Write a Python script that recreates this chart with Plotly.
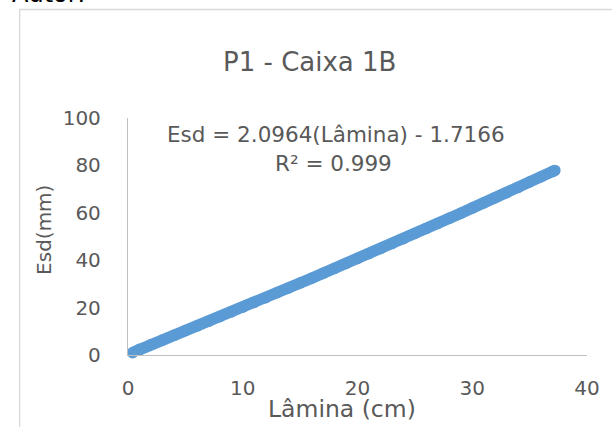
import plotly.graph_objects as go

# Measured depth of infiltrated water (Esd) versus applied water depth (Lâmina)
lamina_cm = [0.4, 1, 2, 3, 4, 5, 6, 7, 8, 9, 10, 11, 12, 13, 14, 15, 16, 17, 18,
             19, 20, 21, 22, 23, 24, 25, 26, 27, 28, 29, 30, 31, 32, 33, 34, 35,
             36, 37, 37.2]
esd_mm = [1.0, 2.4, 4.4, 6.3, 8.3, 10.3, 12.2, 14.2, 16.2, 18.2, 20.2, 22.2,
          24.2, 26.3, 28.3, 30.4, 32.4, 34.5, 36.5, 38.6, 40.7, 42.8, 44.9,
          47.0, 49.1, 51.3, 53.4, 55.5, 57.7, 59.8, 62.0, 64.2, 66.4, 68.5,
          70.7, 73.0, 75.2, 77.4, 77.9]

x_ticks = [0, 10, 20, 30, 40]
y_ticks = [0, 20, 40, 60, 80, 100]

title_text = "P1 - Caixa 1B"
equation_text = "Esd = 2.0964(Lâmina) - 1.7166"
r2_text = "R² = 0.999"

FONT = "DejaVu Sans"
TXT = "#595959"
AXIS = "#bfbfbf"
BLUE = "#5b9bd5"

W, H = 612, 427
ML, MR, MT, MB = 128, 20, 118, 72
PW, PH = W - ML - MR, H - MT - MB


def px(x):
    return (x - ML) / PW


def py(y):
    return (H - MB - y) / PH


def label(text, x, y, size, **kw):
    return dict(text=text, xref="paper", yref="paper", x=px(x), y=py(y),
                xanchor=kw.pop("xanchor", "center"),
                yanchor=kw.pop("yanchor", "middle"),
                showarrow=False, font=dict(size=size, color=kw.pop("color", TXT)),
                **kw)


fig = go.Figure()
fig.add_trace(go.Scatter(
    x=lamina_cm, y=esd_mm, mode="lines+markers",
    line=dict(color=BLUE, width=11.5),
    marker=dict(color=BLUE, size=11.5),
    showlegend=False, cliponaxis=False,
))

fig.update_layout(
    width=W, height=H,
    margin=dict(l=ML, r=MR, t=MT, b=MB),
    paper_bgcolor="white", plot_bgcolor="white",
    font=dict(family=FONT, color=TXT),
    xaxis=dict(range=[0, 40], tickvals=x_ticks, showgrid=False, zeroline=False,
               showline=True, linecolor=AXIS, linewidth=1.3, ticks="",
               tickfont=dict(size=20, color=TXT), ticklabelstandoff=15),
    yaxis=dict(range=[0, 100], tickvals=y_ticks, showgrid=False, zeroline=False,
               showline=True, linecolor=AXIS, linewidth=1.3, ticks="",
               tickfont=dict(size=20, color=TXT), ticklabelstandoff=22),
    shapes=[dict(type="rect", xref="paper", yref="paper",
                 x0=px(18.5), x1=px(640), y0=py(450), y1=py(9.5),
                 line=dict(color="#d9d9d9", width=1.3), layer="below")],
    annotations=[
        label(title_text, 311, 62, 26),
        label(equation_text, 338, 134, 21.5),
        label(r2_text, 336, 163, 21.5),
        label("Esd(mm)", 43, 230, 20, textangle=-90),
        label("Lâmina (cm)", 344, 409, 23.5),
        label("Autor:", 9, 10, 24, xanchor="left", yanchor="bottom",
              color="#000000"),
    ],
)

fig.write_html("out.html")
